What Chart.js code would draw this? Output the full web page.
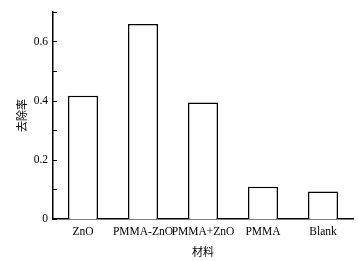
<!DOCTYPE html>
<html>
<head>
<meta charset="utf-8">
<script src="https://cdn.jsdelivr.net/npm/chart.js@4"></script>
<style>
html,body{margin:0;padding:0;background:#fff;}
#wrap{width:358px;height:261px;}
</style>
</head>
<body>
<div id="wrap"><canvas id="c" width="358" height="261"></canvas></div>
<script>
const categories = ['ZnO', 'PMMA-ZnO', 'PMMA+ZnO', 'PMMA', 'Blank'];
const removalRate = [0.417, 0.659, 0.394, 0.109, 0.093];
const yTickLabels = ['0', '0.2', '0.4', '0.6'];
const xTitle = '材料';
const yTitle = '去除率';

const serif = "'Liberation Serif', 'Times New Roman', serif";
const cjk = "'Noto Sans CJK SC', sans-serif";

const innerTicks = {
  id: 'innerTicks',
  afterDraw(chart) {
    const y = chart.scales.y;
    const ctx = chart.ctx;
    ctx.save();
    ctx.strokeStyle = '#000';
    ctx.lineWidth = 1;
    y.ticks.forEach(t => {
      const py = Math.round(y.getPixelForValue(t.value)) + 0.5;
      ctx.beginPath();
      ctx.moveTo(y.right, py);
      ctx.lineTo(y.right + 4, py);
      ctx.stroke();
    });
    ctx.restore();
  }
};

new Chart(document.getElementById('c'), {
  type: 'bar',
  data: {
    labels: categories,
    datasets: [{
      data: removalRate,
      backgroundColor: '#fff',
      borderColor: '#000',
      borderWidth: 1.5,
      barPercentage: 0.5,
      categoryPercentage: 1.0
    }]
  },
  options: {
    responsive: false,
    animation: false,
    layout: { padding: { top: 11, right: 5, left: 0, bottom: 0 } },
    plugins: { legend: { display: false }, tooltip: { enabled: false } },
    scales: {
      x: {
        grid: { display: false, drawTicks: false },
        border: { display: true, color: '#000', width: 1.5 },
        ticks: { color: '#000', font: { family: serif, size: 11.5 }, padding: 6, maxRotation: 0, autoSkip: false },
        title: { display: true, text: xTitle, color: '#000', font: { family: cjk, size: 11 }, padding: { top: 0, bottom: 3 } },
        afterFit(s) { s.height = 42; }
      },
      y: {
        min: 0,
        max: 0.7,
        grid: { display: false, drawTicks: false },
        border: { display: true, color: '#000', width: 1.5 },
        ticks: {
          stepSize: 0.1,
          color: '#000',
          font: { family: serif, size: 11.5 },
          padding: 5,
          callback(v) {
            const i = Math.round(v * 10);
            return i % 2 === 0 ? yTickLabels[i / 2] : '';
          }
        },
        title: { display: true, text: yTitle, color: '#000', font: { family: cjk, size: 11 }, padding: { top: 15, bottom: 0 } },
        afterFit(s) { s.width = 53; }
      }
    }
  },
  plugins: [innerTicks]
});
</script>
</body>
</html>
